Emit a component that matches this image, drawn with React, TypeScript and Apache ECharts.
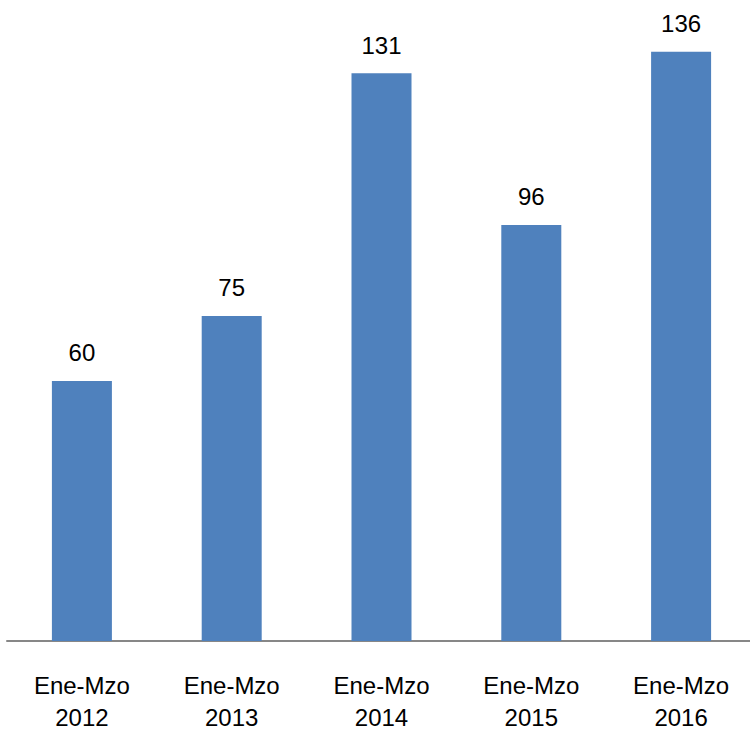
import React, { useEffect, useRef } from "react";
import * as echarts from "echarts";

const categories = ["Ene-Mzo\n2012", "Ene-Mzo\n2013", "Ene-Mzo\n2014", "Ene-Mzo\n2015", "Ene-Mzo\n2016"];
const values = [60, 75, 131, 96, 136];

export default function App() {
  const ref = useRef<HTMLDivElement>(null);
  useEffect(() => {
    if (!ref.current) return;
    const chart = echarts.init(ref.current, null, { renderer: "svg" });
    chart.setOption({
      animation: false,
      backgroundColor: "#ffffff",
      grid: { left: 7, right: 4, top: 34.3, bottom: 89, containLabel: false },
      xAxis: {
        type: "category",
        data: categories,
        axisLine: { show: true, lineStyle: { color: "#878787", width: 2 } },
        axisTick: { show: false },
        axisLabel: {
          color: "#000000",
          fontFamily: "Liberation Sans",
          fontSize: 24,
          lineHeight: 32,
          margin: 28,
          interval: 0,
        },
      },
      yAxis: {
        type: "value",
        min: 0,
        max: 140,
        show: false,
        splitLine: { show: false },
      },
      series: [
        {
          type: "bar",
          data: values,
          barWidth: 60,
          itemStyle: { color: "#4f81bd" },
          label: {
            show: true,
            position: "top",
            distance: 16,
            color: "#000000",
            fontFamily: "Liberation Sans",
            fontSize: 24,
          },
        },
      ],
    });
    return () => chart.dispose();
  }, []);
  return (
    <div style={{ position: "absolute", left: 0, top: 0, width: 750, height: 733, overflow: "hidden" }}>
      <div ref={ref} style={{ width: 760, height: 733 }} />
    </div>
  );
}
